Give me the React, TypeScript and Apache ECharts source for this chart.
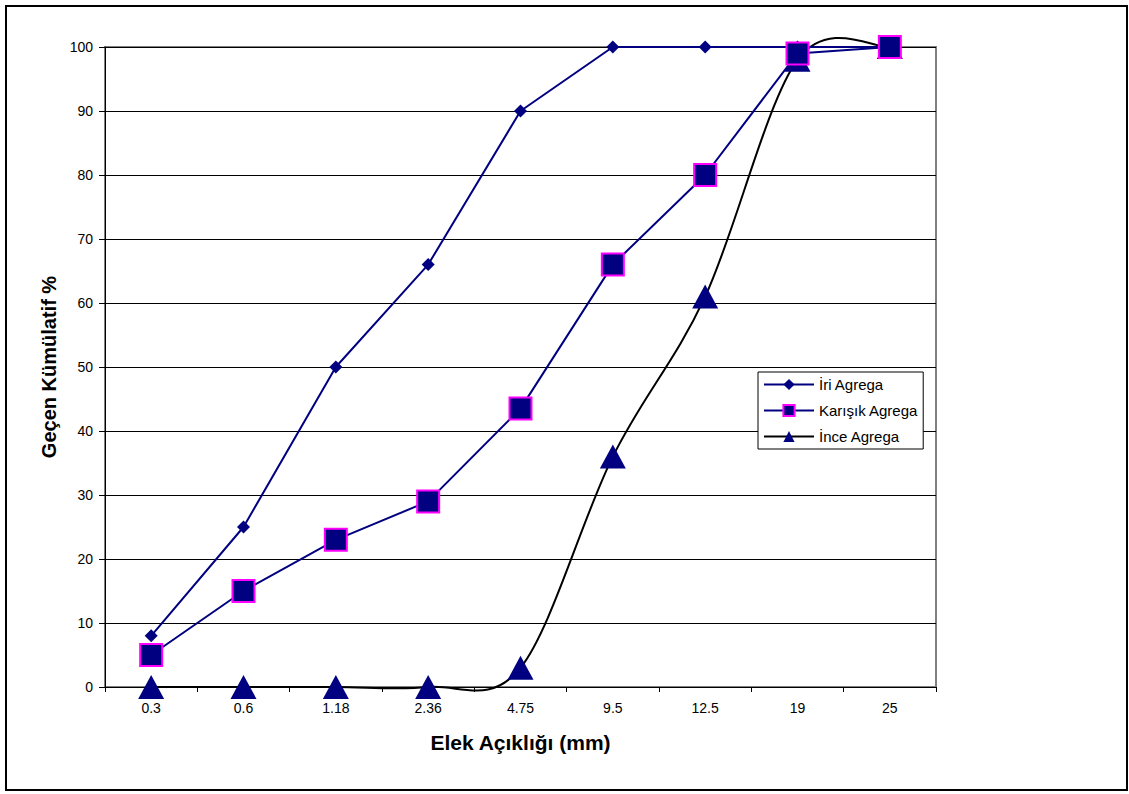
import React, { useEffect, useRef } from "react";
import * as echarts from "echarts";

const categories = ["0.3", "0.6", "1.18", "2.36", "4.75", "9.5", "12.5", "19", "25"];
const iriAgrega = [8, 25, 50, 66, 90, 100, 100, 100, 100];
const karisikAgrega = [5, 15, 23, 29, 43.5, 66, 80, 99, 100];
const inceAgrega = [0, 0, 0, 0, 3, 36, 61, 98, 100];
const seriesNames = ["İri Agrega", "Karışık Agrega", "İnce Agrega"];

const FONT = "'Liberation Sans', Arial, sans-serif";

export default function App() {
  const ref = useRef<HTMLDivElement>(null);
  useEffect(() => {
    if (!ref.current) return;
    const chart = echarts.init(ref.current, null, { renderer: "svg" });
    const n = inceAgrega.length;
    chart.setOption({
      animation: false,
      backgroundColor: "#fff",
      textStyle: { fontFamily: FONT },
      grid: {
        left: 105,
        right: 193,
        top: 47,
        bottom: 107,
        show: true,
        borderColor: "#808080",
        borderWidth: 2,
        backgroundColor: "#fff",
      },
      graphic: [
        {
          type: "rect",
          shape: { x: 6, y: 6, width: 1121, height: 784 },
          style: { fill: "none", stroke: "#000", lineWidth: 2 },
          silent: true,
        },
      ],
      legend: {
        orient: "vertical",
        left: 758,
        top: 372,
        backgroundColor: "#fff",
        borderColor: "#000",
        borderWidth: 1,
        borderRadius: 0,
        padding: [5, 5, 5, 5],
        itemGap: 11,
        itemWidth: 50,
        itemHeight: 14,
        textStyle: { fontFamily: FONT, fontSize: 15, color: "#000" },
        data: [
          { name: seriesNames[0] },
          { name: seriesNames[1] },
          { name: seriesNames[2], lineStyle: { color: "#000", width: 2, opacity: 1 } },
        ],
      },
      xAxis: {
        type: "category",
        data: categories,
        boundaryGap: true,
        name: "Elek Açıklığı (mm)",
        nameLocation: "middle",
        nameGap: 45,
        nameTextStyle: { fontFamily: FONT, fontSize: 21, fontWeight: "bold", color: "#000" },
        axisLine: { lineStyle: { color: "#000", width: 1 } },
        axisTick: { show: true, length: 5, lineStyle: { color: "#000" } },
        axisLabel: { fontFamily: FONT, fontSize: 14, color: "#000", margin: 14 },
        splitLine: { show: false },
      },
      yAxis: {
        type: "value",
        min: 0,
        max: 100,
        interval: 10,
        name: "Geçen Kümülatif %",
        nameLocation: "middle",
        nameGap: 42,
        nameTextStyle: { fontFamily: FONT, fontSize: 20, fontWeight: "bold", color: "#000" },
        axisLine: { show: true, lineStyle: { color: "#000", width: 1 } },
        axisTick: { show: true, length: 6, lineStyle: { color: "#000" } },
        axisLabel: { fontFamily: FONT, fontSize: 14, color: "#000", margin: 12 },
        splitLine: { show: true, lineStyle: { color: "#000", width: 1 } },
      },
      series: [
        {
          name: seriesNames[0],
          type: "line",
          data: iriAgrega,
          z: 3,
          symbol: "diamond",
          symbolSize: 13,
          lineStyle: { color: "#000080", width: 2 },
          itemStyle: { color: "#000080", borderWidth: 0 },
        },
        {
          name: seriesNames[1],
          type: "line",
          data: karisikAgrega,
          z: 5,
          symbol: "rect",
          symbolSize: 22,
          lineStyle: { color: "#000080", width: 2 },
          itemStyle: { color: "#000080", borderColor: "#ff00ff", borderWidth: 2 },
        },
        {
          name: seriesNames[2],
          type: "line",
          data: inceAgrega,
          z: 4,
          symbol: "triangle",
          symbolSize: [26, 24],
          lineStyle: { color: "#000", width: 2, opacity: 0 },
          itemStyle: { color: "#000080", borderWidth: 0 },
        },
        {
          name: "inceCurve",
          type: "custom",
          z: 2,
          silent: true,
          data: inceAgrega.map((v, i) => [i, v]),
          renderItem: (params: any, api: any) => {
            const i = params.dataIndex;
            if (i === 0) return null;
            const pt = (k: number) => {
              const kk = Math.max(0, Math.min(n - 1, k));
              return api.coord([kk, inceAgrega[kk]]);
            };
            const p0 = pt(i - 2);
            const p1 = pt(i - 1);
            const p2 = pt(i);
            const p3 = pt(i + 1);
            const c1x = p1[0] + (p2[0] - p0[0]) / 6;
            const c1y = p1[1] + (p2[1] - p0[1]) / 6;
            const c2x = p2[0] - (p3[0] - p1[0]) / 6;
            const c2y = p2[1] - (p3[1] - p1[1]) / 6;
            return {
              type: "bezierCurve",
              shape: {
                x1: p1[0], y1: p1[1],
                x2: p2[0], y2: p2[1],
                cpx1: c1x, cpy1: c1y,
                cpx2: c2x, cpy2: c2y,
              },
              style: { stroke: "#000", lineWidth: 2, fill: "none" },
            };
          },
        },
      ],
    });
    return () => chart.dispose();
  }, []);
  return (
    <div
      ref={ref}
      style={{ position: "fixed", left: 0, top: 0, width: 1129, height: 794 }}
    />
  );
}
